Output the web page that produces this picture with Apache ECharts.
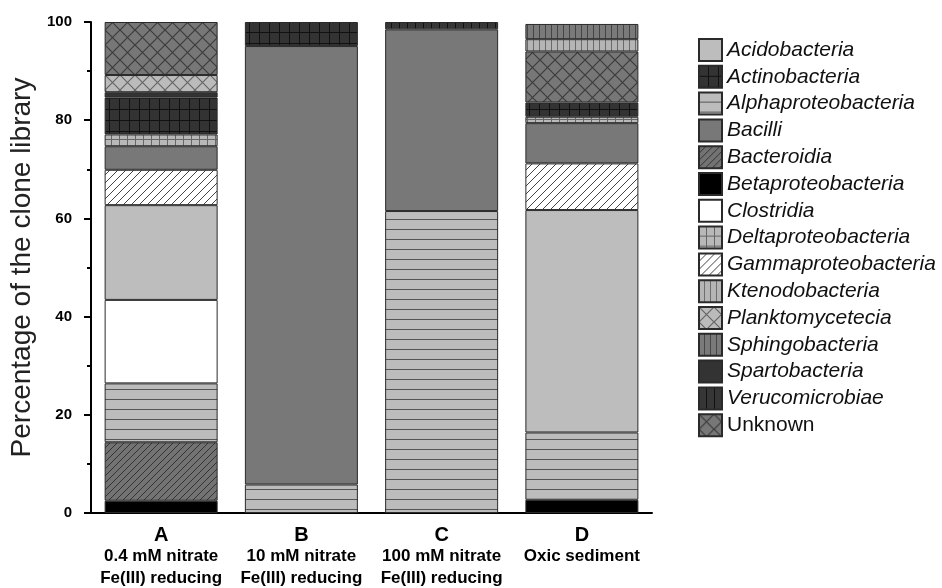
<!DOCTYPE html>
<html>
<head>
<meta charset="utf-8">
<script src="https://cdn.jsdelivr.net/npm/echarts@6/dist/echarts.min.js"></script>
<style>
html,body{margin:0;padding:0;background:#fff;}
#chart{width:942px;height:588px;}
</style>
</head>
<body>
<div id="chart"></div>
<script>
// ---- data ----
var categories = ['A', 'B', 'C', 'D'];
var subtitles1 = ['0.4 mM nitrate', '10 mM nitrate', '100 mM nitrate', 'Oxic sediment'];
var subtitles2 = ['Fe(III) reducing', 'Fe(III) reducing', 'Fe(III) reducing', ''];
var yTicks = [0, 20, 40, 60, 80, 100];

// values per category [A, B, C, D] (percent)
var betaproteobacteria  = [2.5, 0, 0, 2.7];
var bacteroidia         = [11.9, 0, 0, 0];
var alphaproteobacteria = [12.0, 5.8, 61.5, 13.7];
var clostridia          = [17.0, 0, 0, 0];
var acidobacteria       = [19.3, 0, 0, 45.3];
var gammaproteobacteria = [7.2, 0, 0, 9.5];
var bacilli             = [4.8, 89.3, 37.0, 8.2];
var deltaproteobacteria = [2.4, 0, 0, 1.3];
var actinobacteria      = [7.5, 4.9, 0, 2.9];
var spartobacteria      = [1.1, 0, 0, 0];
var verucomicrobiae     = [0, 0, 1.5, 0];
var planktomycetecia    = [3.5, 0, 0, 0];
var unknown             = [10.8, 0, 0, 10.4];
var ktenodobacteria     = [0, 0, 0, 2.5];
var sphingobacteria     = [0, 0, 0, 3.1];

var legendOrder = ['Acidobacteria','Actinobacteria','Alphaproteobacteria','Bacilli','Bacteroidia',
  'Betaproteobacteria','Clostridia','Deltaproteobacteria','Gammaproteobacteria','Ktenodobacteria',
  'Planktomycetecia','Sphingobacteria','Spartobacteria','Verucomicrobiae','Unknown'];

// ---- patterns ----
function tile(w, h, bg, draw) {
  var c = document.createElement('canvas');
  c.width = w; c.height = h;
  var g = c.getContext('2d');
  g.fillStyle = bg; g.fillRect(0, 0, w, h);
  draw(g, w, h);
  return { image: c, repeat: 'repeat' };
}
function hLines(bg, fg, p) { return tile(4, p, bg, function (g, w, h) { g.fillStyle = fg; g.fillRect(0, h - 1, w, 1); }); }
function vLines(bg, fg, p) { return tile(p, 4, bg, function (g, w, h) { g.fillStyle = fg; g.fillRect(w - 1, 0, 1, h); }); }
function gridP(bg, fg, w0, h0) { return tile(w0, h0, bg, function (g, w, h) { g.fillStyle = fg; g.fillRect(w - 1, 0, 1, h); g.fillRect(0, h - 1, w, 1); }); }
function diag(bg, fg, s) {
  return tile(s, s, bg, function (g, w, h) {
    g.strokeStyle = fg; g.lineWidth = 1;
    g.beginPath();
    g.moveTo(0, h); g.lineTo(w, 0);
    g.moveTo(-1, 1); g.lineTo(1, -1);
    g.moveTo(w - 1, h + 1); g.lineTo(w + 1, h - 1);
    g.stroke();
  });
}
function cross(bg, fg, s) {
  return tile(s, s, bg, function (g, w, h) {
    g.strokeStyle = fg; g.lineWidth = 1.2;
    g.beginPath();
    g.moveTo(0, 0); g.lineTo(w, h);
    g.moveTo(0, h); g.lineTo(w, 0);
    g.stroke();
  });
}

var styles = {
  'Betaproteobacteria': '#000000',
  'Bacteroidia': diag('#737373', '#333333', 7),
  'Alphaproteobacteria': hLines('#bcbcbc', '#555555', 10),
  'Clostridia': '#ffffff',
  'Acidobacteria': '#bdbdbd',
  'Gammaproteobacteria': diag('#ffffff', '#444444', 8),
  'Bacilli': '#787878',
  'Deltaproteobacteria': gridP('#b8b8b8', '#666666', 8, 10),
  'Actinobacteria': gridP('#333333', '#111111', 10, 11),
  'Spartobacteria': '#333333',
  'Verucomicrobiae': vLines('#363636', '#111111', 8),
  'Planktomycetecia': cross('#bbbbbb', '#666666', 15),
  'Unknown': cross('#777777', '#3c3c3c', 15),
  'Ktenodobacteria': vLines('#b5b5b5', '#6a6a6a', 6),
  'Sphingobacteria': vLines('#7a7a7a', '#444444', 6)
};

var stackSeries = [
  ['Betaproteobacteria', betaproteobacteria],
  ['Bacteroidia', bacteroidia],
  ['Alphaproteobacteria', alphaproteobacteria],
  ['Clostridia', clostridia],
  ['Acidobacteria', acidobacteria],
  ['Gammaproteobacteria', gammaproteobacteria],
  ['Bacilli', bacilli],
  ['Deltaproteobacteria', deltaproteobacteria],
  ['Actinobacteria', actinobacteria],
  ['Spartobacteria', spartobacteria],
  ['Verucomicrobiae', verucomicrobiae],
  ['Planktomycetecia', planktomycetecia],
  ['Unknown', unknown],
  ['Ktenodobacteria', ktenodobacteria],
  ['Sphingobacteria', sphingobacteria]
];

var series = stackSeries.map(function (s) {
  return {
    name: s[0],
    type: 'bar',
    stack: 'total',
    barWidth: 113,
    data: s[1].map(function (v) { return v === 0 ? null : v; }),
    itemStyle: { color: styles[s[0]], borderColor: '#2a2a2a', borderWidth: 1 },
    emphasis: { disabled: true }
  };
});

var FONT = 'Liberation Sans, Arial, sans-serif';
var chart = echarts.init(document.getElementById('chart'), null, { renderer: 'canvas' });
chart.setOption({
  animation: false,
  backgroundColor: '#ffffff',
  grid: { left: 91, right: 290, top: 22, bottom: 75, containLabel: false },
  legend: {
    orient: 'vertical',
    left: 693,
    top: 33,
    itemWidth: 23,
    itemHeight: 22,
    itemGap: 2.8,
    icon: 'rect',
    data: legendOrder,
    selectedMode: false,
    formatter: function (name) { return name === 'Unknown' ? '{n|' + name + '}' : '{i|' + name + '}'; },
    textStyle: {
      rich: {
        i: { fontStyle: 'italic', fontSize: 21, fontFamily: FONT, color: '#111' },
        n: { fontSize: 21, fontFamily: FONT, color: '#111' }
      }
    }
  },
  xAxis: {
    type: 'category',
    data: categories,
    axisLine: { show: true, lineStyle: { color: '#000', width: 2 } },
    axisTick: { show: false },
    axisLabel: {
      margin: 12,
      interval: 0,
      formatter: function (v, i) {
        var s = '{a|' + v + '}\n{b|' + subtitles1[i] + '}';
        if (subtitles2[i]) s += '\n{b|' + subtitles2[i] + '}';
        return s;
      },
      rich: {
        a: { fontSize: 20, fontWeight: 'bold', lineHeight: 20, fontFamily: FONT, color: '#000' },
        b: { fontSize: 17, fontWeight: 'bold', lineHeight: 22, fontFamily: FONT, color: '#000' }
      }
    }
  },
  yAxis: {
    type: 'value',
    min: yTicks[0],
    max: yTicks[yTicks.length - 1],
    interval: 20,
    name: 'Percentage of the clone library',
    nameLocation: 'middle',
    nameGap: 55,
    nameTextStyle: { fontSize: 28, fontFamily: FONT, color: '#222' },
    axisLine: { show: true, lineStyle: { color: '#000', width: 2 } },
    axisTick: { show: true, inside: false, length: 7, lineStyle: { color: '#000', width: 2 } },
    minorTick: { show: true, splitNumber: 2, length: 4, lineStyle: { color: '#000', width: 2 } },
    splitLine: { show: false },
    axisLabel: { margin: 19, fontSize: 15, fontWeight: 'bold', fontFamily: FONT, color: '#000' }
  },
  series: series
});
</script>
</body>
</html>
